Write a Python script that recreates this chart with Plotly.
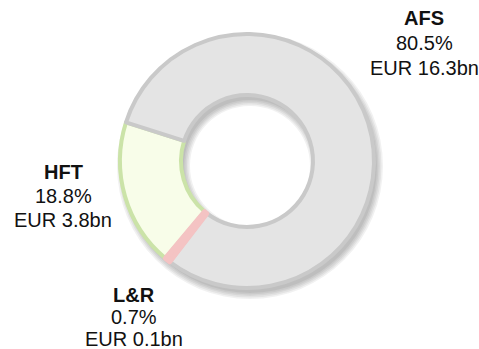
import plotly.graph_objects as go

# Portfolio split by accounting category
categories = ["AFS", "HFT", "L&R"]
shares_pct = [80.5, 18.8, 0.7]
amounts_bn = [16.3, 3.8, 0.1]

W, H = 479, 349

# Slice styling per category
fill_colors = {"AFS": "#e4e4e4", "HFT": "#f8fde9", "L&R": "#f4c3c3"}
edge_colors = {"AFS": "#c9c9c9", "HFT": "#cbe3a8", "L&R": "#f4c3c3"}
edge_widths = {"AFS": 4, "HFT": 4, "L&R": 5}

# Donut geometry in pixels (screen coords, y down)
CX, CY = 247, 161
R_OUT = 127
R_IN = 66


def domain_for(cx, cy, r):
    """Paper-domain box whose inscribed circle has centre (cx, cy) and radius r."""
    return dict(
        x=[(cx - r) / W, (cx + r) / W],
        y=[(H - cy - r) / H, (H - cy + r) / H],
    )


fig = go.Figure()

# Soft drop shadow: stacked translucent rings offset towards the lower right
shadow_dx, shadow_dy = 3, 5
for spread in [0, 1.5, 3, 4.5, 6]:
    r_o = R_OUT + spread
    r_i = max(R_IN - spread, 1)
    fig.add_trace(go.Pie(
        values=[1],
        labels=["shadow"],
        hole=r_i / r_o,
        domain=domain_for(CX + shadow_dx, CY + shadow_dy, r_o),
        marker=dict(colors=["rgba(0,0,0,0.055)"], line=dict(width=0)),
        textinfo="none",
        hoverinfo="skip",
        showlegend=False,
        sort=False,
    ))

# Draw order: HFT first, AFS over it, L&R on top
order = ["HFT", "AFS", "L&R"]
idx = [categories.index(c) for c in order]
fig.add_trace(go.Pie(
    labels=[categories[i] for i in idx],
    values=[shares_pct[i] for i in idx],
    hole=R_IN / R_OUT,
    domain=domain_for(CX, CY, R_OUT),
    sort=False,
    direction="clockwise",
    rotation=-140,
    marker=dict(
        colors=[fill_colors[categories[i]] for i in idx],
        line=dict(
            color=[edge_colors[categories[i]] for i in idx],
            width=[edge_widths[categories[i]] for i in idx],
        ),
    ),
    textinfo="none",
    hoverinfo="label+percent",
    showlegend=False,
))

# Category call-outs: bold name, share, amount
label_pos = {"AFS": (424, 18, 25), "HFT": (63, 172, 24), "L&R": (134, 295, 22)}
font = dict(family="Liberation Sans, Arial, sans-serif", size=20, color="#111111")
annotations = []
for cat, pct, amt in zip(categories, shares_pct, amounts_bn):
    x0, y0, gap = label_pos[cat]
    lines = [f"<b>{cat}</b>", f"{pct}%", f"EUR {amt}bn"]
    for k, txt in enumerate(lines):
        annotations.append(dict(
            x=x0 / W, y=(H - (y0 + k * gap)) / H,
            xref="paper", yref="paper",
            text=txt, showarrow=False,
            xanchor="center", yanchor="middle",
            font=font,
        ))

fig.update_layout(
    width=W, height=H,
    margin=dict(l=0, r=0, t=0, b=0),
    paper_bgcolor="white",
    plot_bgcolor="white",
    annotations=annotations,
)

fig.write_html("out.html")
